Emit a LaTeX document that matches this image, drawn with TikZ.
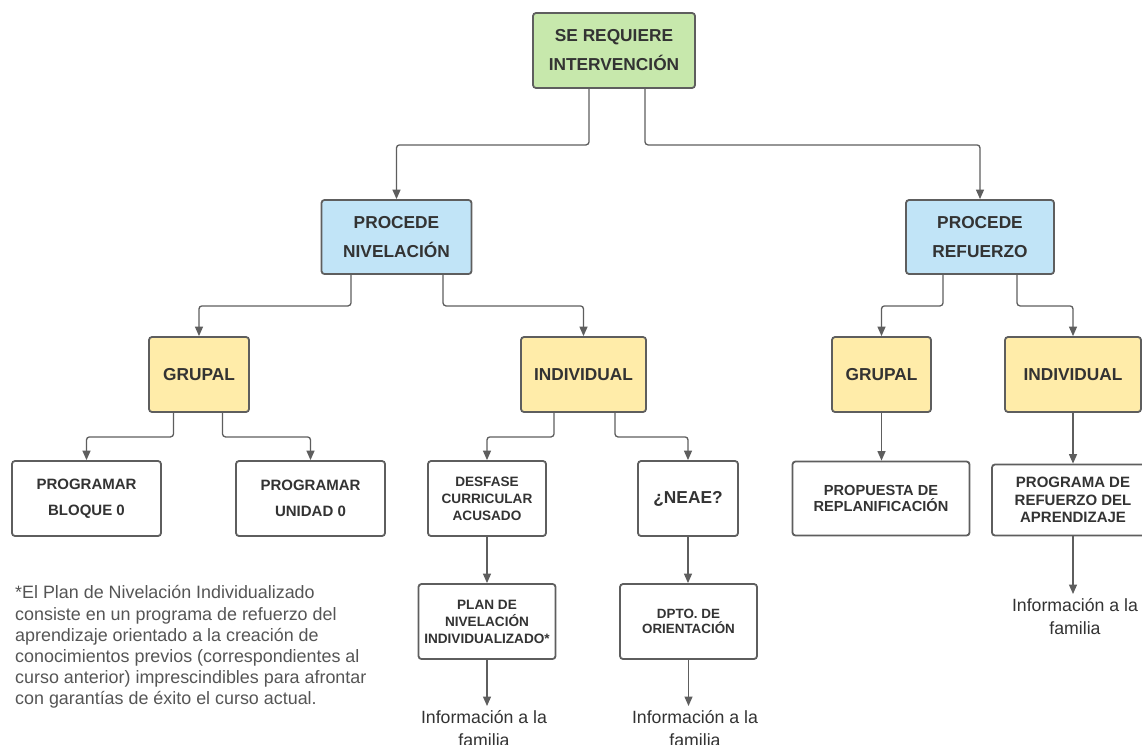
\documentclass[tikz,border=0pt]{standalone}
\usepackage{fontspec}
\setmainfont{Liberation Sans}
\usetikzlibrary{arrows.meta}

\definecolor{edgegray}{HTML}{5E5E5E}
\definecolor{txtgray}{HTML}{333333}
\definecolor{notegray}{HTML}{555555}
\definecolor{fillgreen}{HTML}{C7E8AC}
\definecolor{fillblue}{HTML}{C1E4F7}
\definecolor{fillyellow}{HTML}{FFECA9}

\newcommand{\bigfont}{\fontsize{17.3}{29}\selectfont\bfseries}
\newcommand{\midfont}{\fontsize{15}{26}\selectfont\bfseries}
\newcommand{\smallfont}{\fontsize{13.6}{17}\selectfont\bfseries}

\tikzset{
  box/.style={draw=edgegray, line width=1.8pt, rounded corners=3pt,
    align=center, text=txtgray, inner sep=0pt, fill=white},
  greenbox/.style={box, fill=fillgreen, font=\bigfont},
  bluebox/.style={box, fill=fillblue, font=\bigfont,
    minimum height=74pt},
  yellowbox/.style={box, fill=fillyellow, font=\bigfont,
    minimum height=75pt},
  whitebox/.style={box, minimum height=75pt},
  link/.style={draw=edgegray, line width=1.3pt, rounded corners=3pt,
    -{Triangle[width=8pt,length=9.5pt]}},
  infotext/.style={align=center, text=txtgray, inner xsep=0pt,
    inner ysep=4pt, anchor=north, font=\fontsize{17.7}{23.5}\selectfont},
}

\begin{document}
\begin{tikzpicture}[x=1pt, y=-1pt]
  \useasboundingbox (0,0) rectangle (1142,744);
  \fill[white] (0,0) rectangle (1142,744);

  % top of the tree
  \node[greenbox, minimum width=162pt, minimum height=75pt] (sr) at (614,50.5)
    {SE REQUIERE\\INTERVENCIÓN};
  \node[bluebox, minimum width=150pt] (pn) at (396.5,237) {PROCEDE\\NIVELACIÓN};
  \node[bluebox, minimum width=148pt] (pr) at (980,237) {PROCEDE\\REFUERZO};

  % second level
  \node[yellowbox, minimum width=100pt] (gl) at (199,374.5) {GRUPAL};
  \node[yellowbox, minimum width=125pt] (il) at (583.5,374.5) {INDIVIDUAL};
  \node[yellowbox, minimum width=99pt] (gr) at (881.5,374.5) {GRUPAL};
  \node[yellowbox, minimum width=136pt] (ir) at (1073,374.5) {INDIVIDUAL};

  % third level
  \node[whitebox, minimum width=149pt, font=\midfont] (pb) at (86.5,498.5)
    {PROGRAMAR\\BLOQUE 0};
  \node[whitebox, minimum width=149pt, font=\midfont] (pu) at (310.5,498.5)
    {PROGRAMAR\\UNIDAD 0};
  \node[whitebox, minimum width=118pt, font=\smallfont] (ds) at (487,498.5)
    {DESFASE\\CURRICULAR\\ACUSADO};
  \node[whitebox, minimum width=100pt, font=\bigfont] (ne) at (688,498.5) {¿NEAE?};
  \node[whitebox, minimum width=177pt, minimum height=74pt,
    font=\fontsize{14.6}{16.7}\selectfont\bfseries] (pp) at (881,498.5)
    {PROPUESTA DE\\REPLANIFICACIÓN};
  \node[whitebox, minimum width=162pt, minimum height=71pt,
    font=\fontsize{15}{17.5}\selectfont\bfseries] (pa) at (1073,500)
    {PROGRAMA DE\\REFUERZO DEL\\APRENDIZAJE};

  % fourth level
  \node[whitebox, minimum width=137pt, font=\smallfont] (pl) at (487,621.5)
    {PLAN DE\\NIVELACIÓN\\INDIVIDUALIZADO*};
  \node[whitebox, minimum width=137pt,
    font=\fontsize{13.4}{15.5}\selectfont\bfseries] (dp) at (688.5,621.5)
    {DPTO. DE\\ORIENTACIÓN};

  % family information
  \node[infotext] (if1) at (484,706) {Información a la\\familia};
  \node[infotext] (if2) at (695,706) {Información a la\\familia};
  \node[infotext] (if3) at (1075,594) {Información a la\\familia};

  \node[anchor=north west, align=left, inner sep=0pt, text=notegray,
    font=\fontsize{17.9}{21.2}\selectfont] (note) at (15,585.5)
    {*El Plan de Nivelación Individualizado\\
     consiste en un programa de refuerzo del\\
     aprendizaje orientado a la creación de\\
     conocimientos previos (correspondientes al\\
     curso anterior) imprescindibles para afrontar\\
     con garantías de éxito el curso actual.};

  % connectors
  \draw[link] ([xshift=-25pt]sr.south) -- ++(0,56) -| (pn);
  \draw[link] ([xshift=31pt]sr.south) -- ++(0,56) -| (pr);

  \draw[link] ([xshift=-45.5pt]pn.south) -- ++(0,31) -| (gl);
  \draw[link] ([xshift=46.5pt]pn.south) -- ++(0,31) -| (il);
  \draw[link] ([xshift=-37pt]pr.south) -- ++(0,31) -| (gr);
  \draw[link] ([xshift=37pt]pr.south) -- ++(0,31) -| (ir);

  \draw[link] ([xshift=-25.5pt]gl.south) -- ++(0,24) -| (pb);
  \draw[link] ([xshift=23.5pt]gl.south) -- ++(0,24) -| (pu);
  \draw[link] ([xshift=-29.5pt]il.south) -- ++(0,24) -| (ds);
  \draw[link] ([xshift=31.5pt]il.south) -- ++(0,24) -| (ne);

  \draw[link] (gr.south) -- (gr.south |- pp.north);
  \draw[link] (ir.south) -- (ir.south |- pa.north);
  \draw[link] (ds.south) -- (ds.south |- pl.north);
  \draw[link] (ne.south) -- (ne.south |- dp.north);

  \draw[link] (pl.south) -- (pl.south |- if1.north);
  \draw[link] (dp.south) -- (dp.south |- if2.north);
  \draw[link] (pa.south) -- (pa.south |- if3.north);
\end{tikzpicture}
\end{document}
